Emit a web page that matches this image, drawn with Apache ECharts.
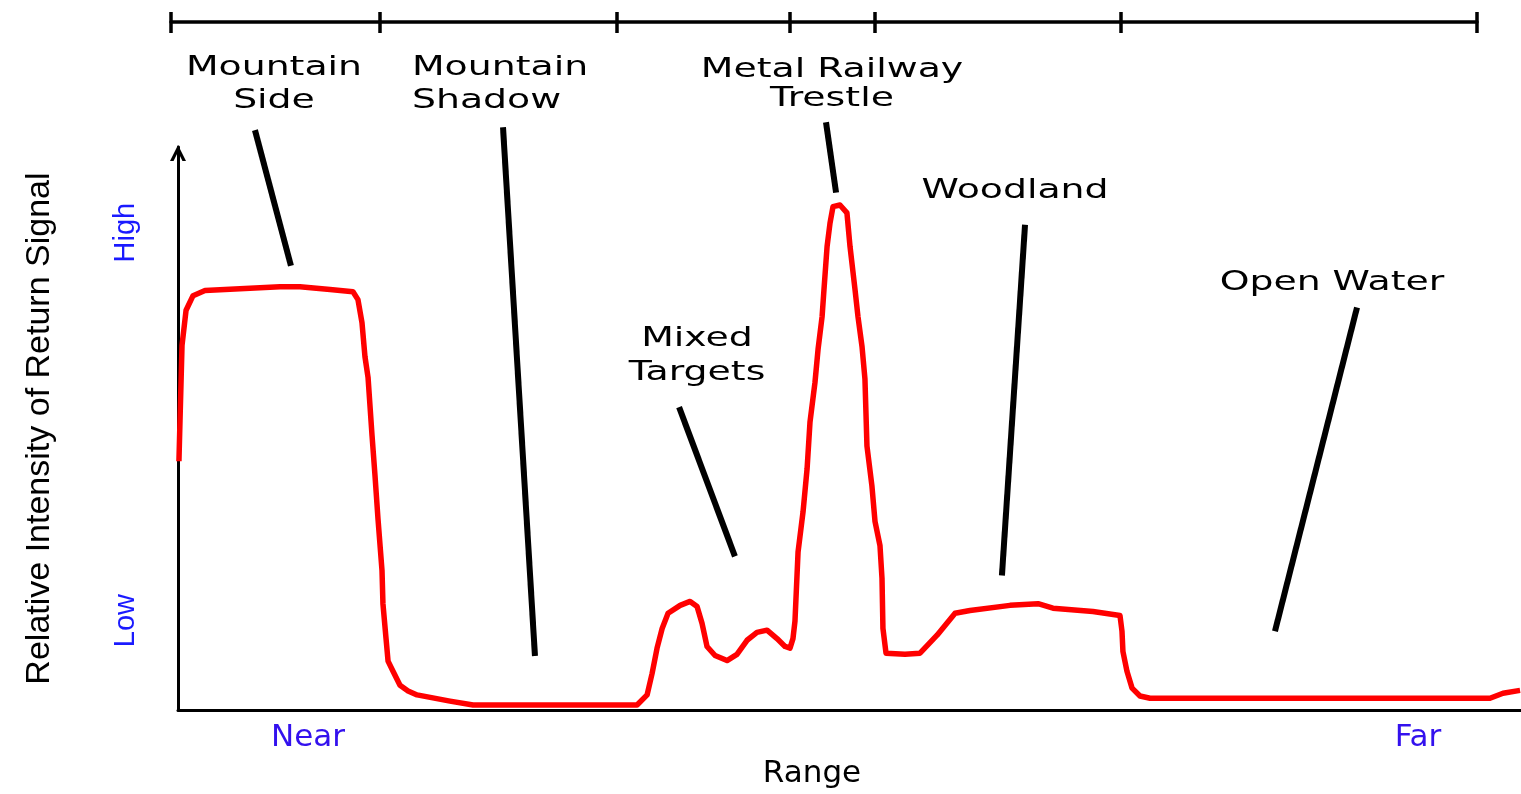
<!DOCTYPE html>
<html>
<head>
<meta charset="utf-8">
<script src="https://cdn.jsdelivr.net/npm/echarts@6/dist/echarts.min.js"></script>
<style>
  html, body { margin: 0; padding: 0; background: #fff; }
  #main { width: 1521px; height: 794px; }
</style>
</head>
<body>
<div id="main"></div>
<script>
var dom = document.getElementById('main');
var myChart = echarts.init(dom, null, { renderer: 'canvas' });
var option;

// range position (0 = near, 100 = far)
var rangePos = [
  0.07, 0.15, 0.30, 0.60, 1.12, 2.01, 5.36, 7.59, 9.08, 11.32, 13.03, 13.40, 13.70, 13.92,
  14.15, 14.45, 14.67, 14.89, 15.19, 15.26, 15.49, 15.64, 16.01, 16.53, 17.13, 17.80, 20.25,
  21.97, 34.18, 34.93, 35.30, 35.67, 36.05, 36.49, 37.39, 38.13, 38.65, 39.02, 39.39, 39.99,
  40.88, 41.62, 42.37, 43.11, 43.86, 44.60, 45.20, 45.57, 45.79, 45.94, 46.17, 46.54, 46.84,
  47.06, 47.43, 47.66, 47.96, 48.10, 48.33, 48.55, 48.77, 49.29, 49.81, 50.04, 50.41, 50.63,
  50.93, 51.15, 51.30, 51.67, 51.90, 52.27, 52.42, 52.49, 52.72, 54.13, 55.25, 56.52, 57.86,
  58.97, 61.95, 64.04, 65.15, 68.13, 70.14, 70.29, 70.36, 70.66, 71.04, 71.63, 72.38, 97.69,
  98.66, 99.93
];
// relative intensity of return signal (0 = none, 100 = top of axis)
var signal = [
  44.2, 51.5, 64.8, 71.0, 73.6, 74.5, 74.9, 75.2, 75.2, 74.7, 74.3, 72.9, 68.8, 62.8,
  59.1, 48.7, 41.6, 34.0, 24.8, 18.9, 12.7, 8.7, 6.9, 4.4, 3.4, 2.7, 1.6,
  0.9, 0.9, 2.7, 6.5, 11.0, 14.5, 17.2, 18.6, 19.3, 18.4, 15.4, 11.3, 9.7,
  8.8, 9.9, 12.4, 13.8, 14.2, 12.7, 11.3, 11.0, 12.7, 15.8, 28.1, 35.2, 42.8,
  51.2, 58.2, 64.1, 69.9, 74.7, 82.3, 86.5, 89.4, 89.7, 88.3, 82.3, 74.7, 69.9,
  64.6, 58.8, 46.9, 39.8, 33.5, 29.2, 23.4, 14.5, 10.1, 9.9, 10.1, 13.3, 17.2,
  17.7, 18.6, 18.9, 18.1, 17.5, 16.8, 14.0, 10.4, 6.9, 3.9, 2.5, 2.1, 2.1,
  3.0, 3.5
];

// region boundaries on the top ruler
var regionBounds = [-0.52, 15.04, 32.69, 45.57, 51.90, 70.22, 96.72];

// tick labels
var xTickValues = [9.68, 92.33];
var xTickLabels = ['Near', 'Far'];
var yTickValues = [15.9, 84.8];
var yTickLabels = ['Low', 'High'];

// region names and their pointer lines (start, end in range / intensity units)
var regionNames = ['Mountain\nSide', 'Mountain\nShadow', 'Mixed\nTargets', 'Metal Railway\nTrestle', 'Woodland', 'Open Water'];
var pointerFrom = [[5.73, 103.0], [24.20, 103.5], [37.31, 53.8], [48.25, 104.4], [63.07, 86.2], [87.79, 71.5]];
var pointerTo = [[8.41, 78.9], [26.58, 9.6], [41.47, 27.3], [49.00, 91.9], [61.35, 23.9], [81.68, 14.0]];

var curve = rangePos.map(function (x, i) { return [x, signal[i]]; });

var pointerSeries = pointerFrom.map(function (p, i) {
  return {
    type: 'line',
    name: regionNames[i].replace('\n', ' '),
    xAxisIndex: 0,
    yAxisIndex: 0,
    data: [p, pointerTo[i]],
    symbol: 'none',
    clip: false,
    silent: true,
    lineStyle: { color: '#000', width: 6, cap: 'butt' },
    z: 3
  };
});

var textFont = 'DejaVu Sans';
function regionText(text, x, y, align, lh) {
  return {
    type: 'text',
    x: x,
    y: y,
    scaleX: 1.4,
    style: {
      text: text,
      fill: '#000',
      font: '27px "' + textFont + '"',
      textAlign: align,
      textVerticalAlign: 'middle',
      lineHeight: lh
    }
  };
}

option = {
  backgroundColor: '#fff',
  animation: false,
  grid: [
    { left: 178, right: 0, top: 147, bottom: 82 },
    { left: 171, right: 44, top: 22, height: 1 }
  ],
  xAxis: [
    {
      type: 'value',
      gridIndex: 0,
      min: 0,
      max: 100,
      name: 'Range',
      nameLocation: 'middle',
      nameGap: 46,
      nameTextStyle: { color: '#000', fontFamily: textFont, fontSize: 31, padding: [0, 75, 0, 0] },
      axisLine: { show: true, onZero: false, lineStyle: { color: '#000', width: 3 } },
      axisTick: { show: false },
      splitLine: { show: false },
      axisLabel: {
        customValues: xTickValues,
        formatter: function (v) {
          var i = xTickValues.indexOf(v);
          return i >= 0 ? xTickLabels[i] : '';
        },
        color: '#3311ee',
        fontFamily: textFont,
        fontSize: 31,
        margin: 12
      }
    },
    {
      type: 'value',
      gridIndex: 1,
      position: 'top',
      min: regionBounds[0],
      max: regionBounds[regionBounds.length - 1],
      axisLine: { show: true, onZero: false, lineStyle: { color: '#000', width: 3.5 } },
      axisTick: { show: true, inside: false, length: 10, customValues: regionBounds, lineStyle: { color: '#000', width: 3.5 } },
      axisLabel: { show: false },
      splitLine: { show: false }
    },
    {
      type: 'value',
      gridIndex: 1,
      position: 'top',
      min: regionBounds[0],
      max: regionBounds[regionBounds.length - 1],
      axisLine: { show: false, onZero: false },
      axisTick: { show: true, inside: true, length: 11, customValues: regionBounds, lineStyle: { color: '#000', width: 3.5 } },
      axisLabel: { show: false },
      splitLine: { show: false }
    }
  ],
  yAxis: [
    {
      type: 'value',
      gridIndex: 0,
      min: 0,
      max: 100,
      name: 'Relative Intensity of Return Signal',
      nameLocation: 'middle',
      nameRotate: 90,
      nameGap: 121,
      nameTextStyle: { color: '#000', fontFamily: 'Liberation Sans', fontSize: 34 },
      axisLine: {
        show: true,
        lineStyle: { color: '#000', width: 3 },
        symbol: ['none', 'path://M0,10 L5,0 L10,10 L7.8,10 L5,4.4 L2.2,10 Z'],
        symbolSize: [16, 16],
        symbolOffset: [0, -6]
      },
      axisTick: { show: false },
      splitLine: { show: false },
      axisLabel: {
        customValues: yTickValues,
        formatter: function (v) {
          var i = yTickValues.indexOf(v);
          return i >= 0 ? yTickLabels[i] : '';
        },
        rotate: 90,
        color: '#1a1aff',
        fontFamily: 'Liberation Sans',
        fontSize: 29,
        margin: 38
      }
    },
    {
      type: 'value',
      gridIndex: 1,
      min: 0,
      max: 1,
      show: false
    }
  ],
  series: [
    {
      type: 'line',
      name: 'Return signal',
      xAxisIndex: 0,
      yAxisIndex: 0,
      data: curve,
      symbol: 'none',
      smooth: false,
      silent: true,
      lineStyle: { color: '#ff0000', width: 5.5, join: 'round' },
      z: 4
    }
  ].concat(pointerSeries),
  graphic: [
    regionText(regionNames[0], 274, 84.5, 'center', 33),
    regionText(regionNames[1], 412, 84.5, 'left', 33),
    regionText(regionNames[2], 697, 356, 'center', 34),
    regionText(regionNames[3], 832, 84.5, 'center', 29),
    regionText(regionNames[4], 1015, 191, 'center', 30),
    regionText(regionNames[5], 1332, 283, 'center', 30)
  ]
};

myChart.setOption(option);
</script>
</body>
</html>
